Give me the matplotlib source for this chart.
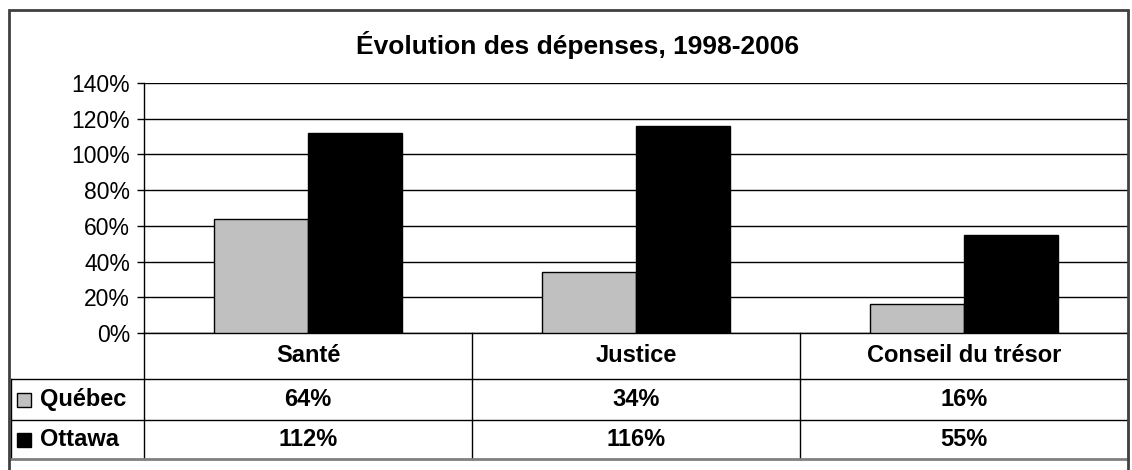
import matplotlib
matplotlib.use("Agg")
import matplotlib.pyplot as plt
from matplotlib.patches import Rectangle

plt.rcParams["font.family"] = ["Liberation Sans", "DejaVu Sans"]

title = "Évolution des dépenses, 1998-2006"
categories = ["Santé", "Justice", "Conseil du trésor"]
series = ["Québec", "Ottawa"]
quebec = [64, 34, 16]
ottawa = [112, 116, 55]
colors = ["#c0c0c0", "#000000"]
yticks = [0, 20, 40, 60, 80, 100, 120, 140]

W, H = 1132, 470
fig = plt.figure(figsize=(W / 100, H / 100), dpi=100)


def box(x0, y0, x1, y1):
    # pixel box (top-left origin) -> figure fraction rect
    return [x0 / W, 1 - y1 / H, (x1 - x0) / W, (y1 - y0) / H]


# chart area frame
fig.patches.append(Rectangle((9 / W, -0.1), (1128 - 9) / W, 1.1 - 10 / H,
                             transform=fig.transFigure, fill=False,
                             edgecolor="#404040", linewidth=2))

fig.text(578 / W, 1 - 45 / H, title, ha="center", va="center",
         fontsize=19, fontweight="bold")

ax = fig.add_axes(box(144, 83, 1128, 333))
n = len(categories)
w = 1 / 3.5
xs = list(range(n))
ax.bar([x - w / 2 for x in xs], quebec, w, color=colors[0], edgecolor="black",
       linewidth=1, zorder=3, label=series[0])
ax.bar([x + w / 2 for x in xs], ottawa, w, color=colors[1], edgecolor="black",
       linewidth=1, zorder=3, label=series[1])
ax.set_xlim(-0.5, n - 0.5)
ax.set_ylim(0, 140)
ax.set_yticks(yticks)
ax.set_yticklabels([f"{v}%" for v in yticks])
ax.tick_params(axis="y", direction="out", length=5, width=1, labelsize=16.5, pad=5)
ax.tick_params(axis="x", bottom=False, labelbottom=False)
ax.yaxis.grid(True, color="black", linewidth=1, zorder=0)
for s in ["top", "right"]:
    ax.spines[s].set_visible(False)
for s in ["left", "bottom"]:
    ax.spines[s].set_linewidth(1)

# data table under the chart
tax = fig.add_axes(box(11, 333, 1128, 460))
left = -0.5 - 133 / 328
tax.set_xlim(left, n - 0.5)
tax.set_ylim(127, 0)
tax.axis("off")
rows = [0, 46, 87, 126]
for x in [i - 0.5 for i in range(n + 1)]:
    tax.plot([x, x], [rows[0], rows[-1]], color="black", lw=1, clip_on=False)
tax.plot([left, left], [rows[1], rows[-1]], color="black", lw=1, clip_on=False)
tax.plot([left, n - 0.5], [rows[1], rows[1]], color="black", lw=1, clip_on=False)
tax.plot([left, n - 0.5], [rows[2], rows[2]], color="black", lw=1, clip_on=False)
tax.plot([left, n - 0.5], [rows[3], rows[3]], color="#808080", lw=2, clip_on=False)

for i, c in enumerate(categories):
    tax.text(i, (rows[0] + rows[1]) / 2, c, ha="center", va="center",
             fontsize=17, fontweight="bold")
for r, (name, vals, col) in enumerate(zip(series, [quebec, ottawa], colors)):
    yc = (rows[r + 1] + rows[r + 2]) / 2
    tax.add_patch(Rectangle((left + 6 / 328, yc - 7), 14 / 328, 14,
                            facecolor=col, edgecolor="black", lw=1,
                            clip_on=False))
    tax.text(left + 29 / 328, yc, name, ha="left", va="center",
             fontsize=17, fontweight="bold")
    for i, v in enumerate(vals):
        tax.text(i, yc, f"{v}%", ha="center", va="center",
                 fontsize=17, fontweight="bold")

fig.savefig("out.png", dpi=100)
